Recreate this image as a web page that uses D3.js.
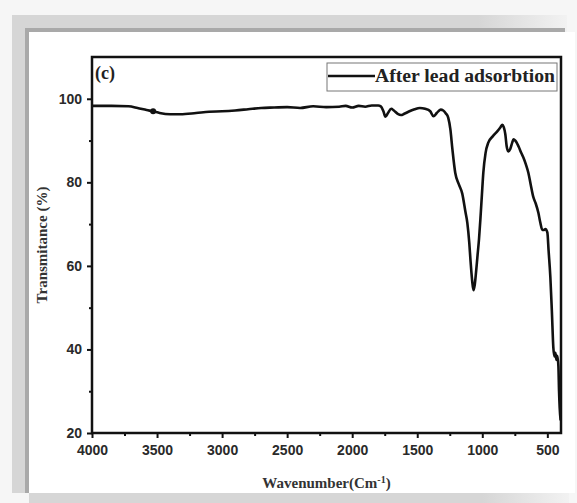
<!DOCTYPE html>
<html>
<head>
<meta charset="utf-8">
<script src="https://cdn.jsdelivr.net/npm/d3@7"></script>
<style>
  body { margin: 0; background: #f6f6f6; }
  svg { display: block; }
</style>
</head>
<body>
<svg width="577" height="503"></svg>
<script>
// FTIR spectrum, after lead adsorption
var wavenumber = [4000, 3850, 3720, 3650, 3580, 3530, 3480, 3400, 3320, 3200, 3100, 3000, 2900, 2800,
  2700, 2600, 2500, 2400, 2300, 2200, 2100, 2050, 2000, 1950, 1900, 1850, 1800, 1780, 1760, 1745,
  1725, 1700, 1680, 1650, 1625, 1600, 1560, 1520, 1480, 1440, 1400, 1375, 1350, 1320, 1300, 1280,
  1262, 1245, 1230, 1208, 1180, 1154, 1130, 1115, 1100, 1090, 1078, 1068, 1058, 1048, 1038, 1025,
  1015, 1003, 992, 975, 954, 920, 885, 860, 846, 835, 823, 812, 800, 785, 770, 760, 746, 720, 700,
  685, 665, 646, 628, 608, 590, 569, 555, 538, 525, 515, 500, 490, 477, 465, 454, 445, 438, 430,
  423, 415, 410, 405, 398];
var transmittance = [98.3, 98.3, 98.2, 97.8, 97.3, 97.0, 96.6, 96.3, 96.3, 96.6, 96.9, 97.0, 97.2, 97.5,
  97.8, 97.9, 98.0, 97.8, 98.2, 98.0, 98.1, 98.3, 97.9, 98.3, 98.1, 98.4, 98.4, 98.2, 97.0, 95.7,
  96.6, 97.6, 97.2, 96.4, 96.1, 96.4, 97.0, 97.5, 97.8, 97.6, 97.0, 95.8, 96.6, 97.4, 97.2, 96.5,
  95.5, 92.6, 88.0, 82.3, 79.5, 77.3, 73.0, 70.3, 65.5, 61.0, 56.5, 54.2, 55.5, 58.5, 62.0, 66.5,
  71.0, 77.0, 82.3, 87.0, 89.5, 91.0, 92.2, 93.2, 93.8, 93.2, 91.5, 88.5, 87.4, 88.0, 89.5, 90.3,
  90.0, 88.5, 87.0, 86.0, 84.3, 82.3, 79.5, 76.5, 75.0, 72.7, 70.5, 68.6, 68.6, 68.8, 68.0, 63.5,
  57.4, 49.0, 40.5, 38.3, 39.2, 37.5, 38.5, 36.0, 30.0, 26.0, 23.0];
var markerPoint = [3530, 97.0];
var xTicks = [4000, 3500, 3000, 2500, 2000, 1500, 1000, 500];
var xMinor = [3750, 3250, 2750, 2250, 1750, 1250, 750];
var yTicks = [20, 40, 60, 80, 100];
var yMinor = [30, 50, 70, 90];
var seriesName = "After lead adsorbtion";

var svg = d3.select("svg");

// grey picture frame round the figure
var defs = svg.append("defs");
var fade = defs.append("linearGradient").attr("id", "fade");
fade.append("stop").attr("offset", "0%").attr("stop-color", "#d6d6d6");
fade.append("stop").attr("offset", "84%").attr("stop-color", "#d6d6d6");
fade.append("stop").attr("offset", "100%").attr("stop-color", "#f2f2f2");

svg.append("rect").attr("x", 12).attr("y", 15).attr("width", 555).attr("height", 478).attr("fill", "url(#fade)");
svg.append("rect").attr("x", 29).attr("y", 493).attr("width", 540).attr("height", 10).attr("fill", "url(#fade)");
svg.append("rect").attr("x", 25).attr("y", 28).attr("width", 540).attr("height", 465).attr("fill", "#a9a9a9");
svg.append("rect").attr("x", 29).attr("y", 32).attr("width", 546).attr("height", 461).attr("fill", "#fff");

var plotLeft = 92, plotRight = 561, plotTop = 57, plotBottom = 433;

var x = d3.scaleLinear().domain([4000, 395]).range([plotLeft, plotRight]);
var y = d3.scaleLinear().domain([20, 110]).range([plotBottom, plotTop]);

var ink = "#111";

// axes: major ticks with labels, minor ticks without
svg.append("g")
  .attr("transform", "translate(0," + plotBottom + ")")
  .call(d3.axisBottom(x).tickValues(xTicks).tickSize(5).tickPadding(7).tickFormat(d3.format("d")));
svg.append("g")
  .attr("transform", "translate(0," + plotBottom + ")")
  .call(d3.axisBottom(x).tickValues(xMinor).tickSize(3).tickFormat(""));

svg.append("g")
  .attr("transform", "translate(" + plotLeft + ",0)")
  .call(d3.axisLeft(y).tickValues(yTicks).tickSize(5).tickPadding(5));
svg.append("g")
  .attr("transform", "translate(" + plotLeft + ",0)")
  .call(d3.axisLeft(y).tickValues(yMinor).tickSize(3).tickFormat(""));

svg.selectAll(".tick line").attr("stroke", ink).attr("stroke-width", 2);
svg.selectAll(".domain").remove();
svg.selectAll(".tick text")
  .attr("fill", "#2a2a2a")
  .style("font-family", "'Liberation Sans', Arial, sans-serif")
  .style("font-weight", "bold")
  .style("font-size", "14px");

// plot box
svg.append("rect")
  .attr("x", plotLeft).attr("y", plotTop)
  .attr("width", plotRight - plotLeft).attr("height", plotBottom - plotTop)
  .attr("fill", "none").attr("stroke", ink).attr("stroke-width", 2.5);

// spectrum
var points = wavenumber.map(function(d, i) { return [d, transmittance[i]]; });
var line = d3.line()
  .x(function(d) { return x(d[0]); })
  .y(function(d) { return y(d[1]); })
  .curve(d3.curveMonotoneX);

svg.append("path")
  .datum(points)
  .attr("fill", "none")
  .attr("stroke", ink)
  .attr("stroke-width", 2.6)
  .attr("stroke-linejoin", "round")
  .attr("d", line);

svg.append("circle")
  .attr("cx", x(markerPoint[0])).attr("cy", y(markerPoint[1]))
  .attr("r", 3).attr("fill", ink);

// panel letter
svg.append("text")
  .attr("x", 95).attr("y", 79)
  .style("font-family", "'Liberation Serif', 'Times New Roman', serif")
  .style("font-weight", "bold").style("font-size", "18px")
  .attr("fill", "#222")
  .text("(c)");

// legend
var legend = svg.append("g");
legend.append("rect")
  .attr("x", 327).attr("y", 63).attr("width", 230).attr("height", 28)
  .attr("fill", "#fff").attr("stroke", "#777").attr("stroke-width", 1);
legend.append("line")
  .attr("x1", 328).attr("x2", 375).attr("y1", 76).attr("y2", 76)
  .attr("stroke", ink).attr("stroke-width", 2.5);
legend.append("text")
  .attr("x", 375).attr("y", 82)
  .attr("textLength", 180).attr("lengthAdjust", "spacingAndGlyphs")
  .style("font-family", "'Liberation Serif', 'Times New Roman', serif")
  .style("font-weight", "bold").style("font-size", "18px")
  .attr("fill", "#222")
  .text(seriesName);

// axis titles
svg.append("text")
  .attr("x", (plotLeft + plotRight) / 2).attr("y", 488)
  .attr("text-anchor", "middle")
  .style("font-family", "'Liberation Serif', 'Times New Roman', serif")
  .style("font-weight", "bold").style("font-size", "15px")
  .attr("fill", "#333")
  .html("Wavenumber(Cm<tspan dy='-5' font-size='10px'>-1</tspan><tspan dy='5'>)</tspan>");

svg.append("text")
  .attr("transform", "translate(47," + (plotTop + plotBottom) / 2 + ") rotate(-90)")
  .attr("text-anchor", "middle")
  .style("font-family", "'Liberation Serif', 'Times New Roman', serif")
  .style("font-weight", "bold").style("font-size", "15px")
  .attr("fill", "#333")
  .text("Transmitance (%)");
</script>
</body>
</html>
